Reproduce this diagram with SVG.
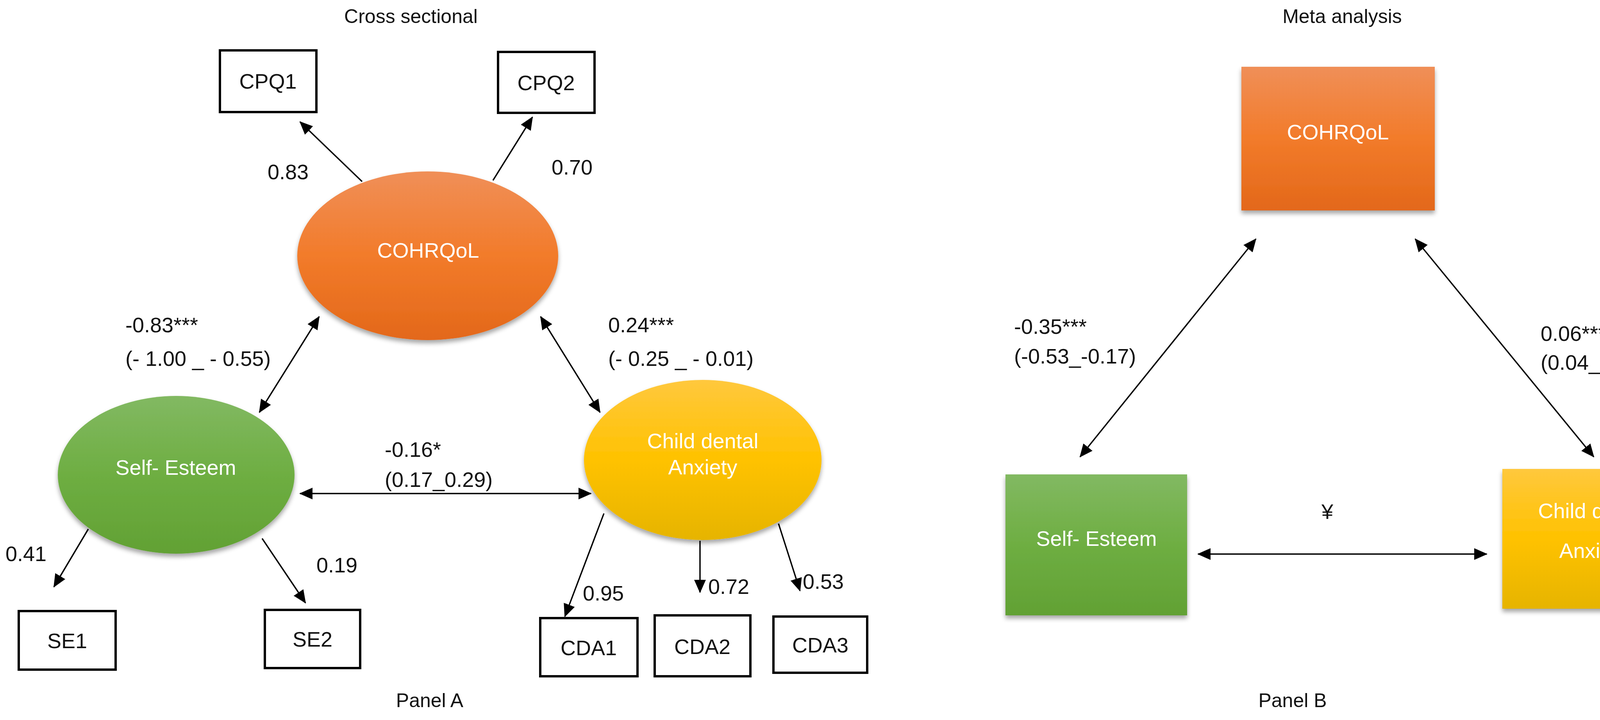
<svg xmlns="http://www.w3.org/2000/svg" width="4341" height="1844" viewBox="0 0 4341 1844">
<style>
text{font-family:"Liberation Sans",Arial,sans-serif;font-size:54px;fill:#111}
.t{font-size:50px}
.w{fill:#fff;text-anchor:middle}
.c{text-anchor:middle}
.box{fill:#fff;stroke:#000;stroke-width:6}
.ln{stroke:#000;stroke-width:3.5;fill:none}
</style>
<defs>
<marker id="ah" markerUnits="userSpaceOnUse" markerWidth="34" markerHeight="30" refX="32" refY="15" orient="auto-start-reverse" viewBox="0 0 34 30"><path d="M0,0 L34,15 L0,30 Z" fill="#000"/></marker>
<linearGradient id="go" x1="0" y1="0" x2="0" y2="1"><stop offset="0" stop-color="#F08F58"/><stop offset="0.5" stop-color="#F27B2A"/><stop offset="1" stop-color="#E3681A"/></linearGradient>
<linearGradient id="gg" x1="0" y1="0" x2="0" y2="1"><stop offset="0" stop-color="#82B962"/><stop offset="0.5" stop-color="#6EAE42"/><stop offset="1" stop-color="#62A134"/></linearGradient>
<linearGradient id="gy" x1="0" y1="0" x2="0" y2="1"><stop offset="0" stop-color="#FFC83D"/><stop offset="0.5" stop-color="#FFC200"/><stop offset="1" stop-color="#E6B400"/></linearGradient>
<filter id="sh" x="-10%" y="-10%" width="120%" height="130%"><feDropShadow dx="0" dy="8" stdDeviation="6" flood-color="#000" flood-opacity="0.35"/></filter>
</defs>
<rect width="4341" height="1844" fill="#fff"/>
<text class="c t" x="1052" y="59">Cross sectional</text>
<text class="c t" x="3436" y="59">Meta analysis</text>
<text class="c t" x="1100" y="1811">Panel A</text>
<text class="c t" x="3309" y="1811">Panel B</text>

<g id="connectors">
<line class="ln" x1="927" y1="465" x2="768" y2="312" marker-end="url(#ah)"/>
<line class="ln" x1="1262" y1="462" x2="1363" y2="300" marker-end="url(#ah)"/>
<line class="ln" x1="664" y1="1056" x2="817" y2="811" marker-start="url(#ah)" marker-end="url(#ah)"/>
<line class="ln" x1="1384" y1="811" x2="1536" y2="1056" marker-start="url(#ah)" marker-end="url(#ah)"/>
<line class="ln" x1="768" y1="1264" x2="1513" y2="1264" marker-start="url(#ah)" marker-end="url(#ah)"/>
<line class="ln" x1="226" y1="1355" x2="138" y2="1503" marker-end="url(#ah)"/>
<line class="ln" x1="671" y1="1379" x2="782" y2="1544" marker-end="url(#ah)"/>
<line class="ln" x1="1546" y1="1315" x2="1446" y2="1579" marker-end="url(#ah)"/>
<line class="ln" x1="1792" y1="1385" x2="1792" y2="1517" marker-end="url(#ah)"/>
<line class="ln" x1="1993" y1="1341" x2="2048" y2="1513" marker-end="url(#ah)"/>
<line class="ln" x1="2765" y1="1170" x2="3215" y2="612" marker-start="url(#ah)" marker-end="url(#ah)"/>
<line class="ln" x1="3623" y1="612" x2="4080" y2="1170" marker-start="url(#ah)" marker-end="url(#ah)"/>
<line class="ln" x1="3067" y1="1419" x2="3806" y2="1419" marker-start="url(#ah)" marker-end="url(#ah)"/>
<text x="685" y="459">0.83</text>
<text x="1412" y="447">0.70</text>
<text x="321" y="851">-0.83***</text>
<text x="321" y="937">(- 1.00 _ - 0.55)</text>
<text x="1557" y="851">0.24***</text>
<text x="1557" y="937">(- 0.25 _ - 0.01)</text>
<text x="985" y="1170">-0.16*</text>
<text x="985" y="1247">(0.17_0.29)</text>
<text x="14" y="1437">0.41</text>
<text x="810" y="1466">0.19</text>
<text x="1492" y="1538">0.95</text>
<text x="1813" y="1521">0.72</text>
<text x="2055" y="1508">0.53</text>
<text x="2596" y="855">-0.35***</text>
<text x="2596" y="931">(-0.53_-0.17)</text>
<text x="3944" y="873">0.06***</text>
<text x="3944" y="947">(0.04_-0.08)</text>
<text class="c" x="3398" y="1329">¥</text>
</g>

<g id="CPQ1"><rect class="box" x="563" y="129" width="247" height="158"/><text class="c" x="686" y="227">CPQ1</text></g>
<g id="CPQ2"><rect class="box" x="1275" y="133" width="247" height="156"/><text class="c" x="1398" y="231">CPQ2</text></g>
<g id="COHRQoL_A"><ellipse cx="1095" cy="655" rx="334" ry="216" fill="url(#go)" filter="url(#sh)"/><text class="w" x="1096" y="660">COHRQoL</text></g>
<g id="SelfEsteem_A"><ellipse cx="451" cy="1216" rx="303" ry="202" fill="url(#gg)" filter="url(#sh)"/><text class="w" x="450" y="1216">Self- Esteem</text></g>
<g id="ChildDental_A"><ellipse cx="1799" cy="1178" rx="304" ry="205" fill="url(#gy)" filter="url(#sh)"/><text class="w" x="1799" y="1148">Child dental</text><text class="w" x="1799" y="1215">Anxiety</text></g>
<g id="SE1"><rect class="box" x="48" y="1565" width="248" height="150"/><text class="c" x="172" y="1660">SE1</text></g>
<g id="SE2"><rect class="box" x="678" y="1562" width="244" height="149"/><text class="c" x="800" y="1656">SE2</text></g>
<g id="CDA1"><rect class="box" x="1383" y="1583" width="249" height="149"/><text class="c" x="1507" y="1678">CDA1</text></g>
<g id="CDA2"><rect class="box" x="1676" y="1576" width="245" height="156"/><text class="c" x="1798" y="1675">CDA2</text></g>
<g id="CDA3"><rect class="box" x="1980" y="1579" width="240" height="144"/><text class="c" x="2100" y="1671">CDA3</text></g>

<g id="COHRQoL_B"><rect x="3178" y="171" width="495" height="368" fill="url(#go)" filter="url(#sh)"/><text class="w" x="3425" y="357">COHRQoL</text></g>
<g id="SelfEsteem_B"><rect x="2574" y="1215" width="465" height="361" fill="url(#gg)" filter="url(#sh)"/><text class="w" x="2807" y="1398">Self- Esteem</text></g>
<g id="ChildDental_B"><rect x="3846" y="1201" width="466" height="358" fill="url(#gy)" filter="url(#sh)"/><text class="w" x="4080" y="1327">Child dental</text><text class="w" x="4080" y="1429">Anxiety</text></g>
</svg>
